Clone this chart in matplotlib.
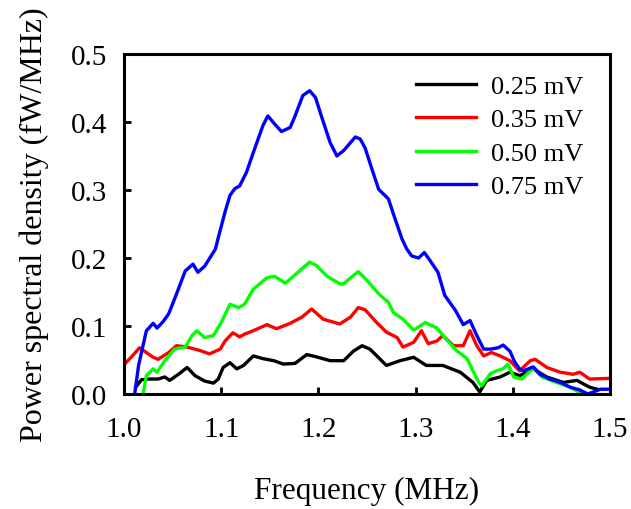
import matplotlib
matplotlib.use("Agg")
import matplotlib.pyplot as plt
from matplotlib.ticker import FormatStrFormatter

plt.rcParams['font.family'] = ['Liberation Serif', 'DejaVu Serif']

labels = ['0.25 mV', '0.35 mV', '0.50 mV', '0.75 mV']
colors = ['#000000', '#ff0000', '#00ff00', '#0000ff']

# 0.25 mV
f1 = [1.012, 1.018, 1.025, 1.035, 1.042, 1.047, 1.056, 1.065, 1.073, 1.083,
      1.092, 1.097, 1.102, 1.109, 1.116, 1.123, 1.133, 1.143, 1.154, 1.164,
      1.176, 1.188, 1.197, 1.212, 1.226, 1.236, 1.245, 1.253, 1.258, 1.270,
      1.284, 1.298, 1.311, 1.328, 1.346, 1.359, 1.366, 1.373, 1.387, 1.397,
      1.407, 1.421, 1.435, 1.452, 1.466, 1.479, 1.487]
p1 = [0.010, 0.021, 0.022, 0.022, 0.025, 0.020, 0.029, 0.039, 0.027, 0.019,
      0.016, 0.022, 0.039, 0.046, 0.037, 0.042, 0.056, 0.052, 0.049, 0.044,
      0.045, 0.058, 0.055, 0.049, 0.049, 0.063, 0.071, 0.066, 0.059, 0.042,
      0.049, 0.054, 0.042, 0.042, 0.032, 0.017, 0.003, 0.020, 0.025, 0.032,
      0.027, 0.037, 0.025, 0.017, 0.020, 0.010, 0.007]

# 0.35 mV
f2 = [1.000, 1.008, 1.016, 1.023, 1.030, 1.035, 1.046, 1.054, 1.065, 1.078,
      1.088, 1.099, 1.104, 1.112, 1.119, 1.124, 1.133, 1.147, 1.157, 1.171,
      1.183, 1.193, 1.205, 1.222, 1.233, 1.241, 1.248, 1.260, 1.270, 1.281,
      1.287, 1.298, 1.306, 1.313, 1.322, 1.328, 1.339, 1.349, 1.356, 1.363,
      1.370, 1.378, 1.387, 1.397, 1.407, 1.418, 1.423, 1.435, 1.449, 1.462,
      1.469, 1.479, 1.500]
p2 = [0.043, 0.055, 0.068, 0.061, 0.054, 0.051, 0.061, 0.071, 0.069, 0.064,
      0.059, 0.066, 0.078, 0.090, 0.084, 0.088, 0.093, 0.102, 0.096, 0.104,
      0.113, 0.125, 0.110, 0.103, 0.113, 0.127, 0.124, 0.105, 0.091, 0.083,
      0.069, 0.076, 0.093, 0.074, 0.078, 0.086, 0.071, 0.071, 0.093, 0.071,
      0.056, 0.061, 0.056, 0.049, 0.034, 0.049, 0.051, 0.039, 0.032, 0.029,
      0.032, 0.022, 0.023]

# 0.50 mV
f3 = [1.020, 1.023, 1.030, 1.034, 1.042, 1.052, 1.063, 1.070, 1.075, 1.083,
      1.092, 1.100, 1.109, 1.118, 1.124, 1.133, 1.147, 1.155, 1.166, 1.179,
      1.191, 1.198, 1.209, 1.222, 1.226, 1.234, 1.241, 1.250, 1.255, 1.263,
      1.272, 1.277, 1.287, 1.298, 1.310, 1.322, 1.332, 1.342, 1.353, 1.359,
      1.365, 1.368, 1.377, 1.383, 1.390, 1.395, 1.401, 1.409, 1.421, 1.430,
      1.445, 1.459, 1.469, 1.473]
p3 = [0.003, 0.027, 0.037, 0.032, 0.049, 0.066, 0.069, 0.086, 0.093, 0.083,
      0.086, 0.105, 0.132, 0.127, 0.132, 0.154, 0.171, 0.173, 0.163, 0.179,
      0.194, 0.189, 0.173, 0.162, 0.162, 0.172, 0.180, 0.167, 0.159, 0.146,
      0.135, 0.120, 0.110, 0.094, 0.105, 0.097, 0.080, 0.064, 0.052, 0.034,
      0.017, 0.012, 0.030, 0.034, 0.037, 0.044, 0.025, 0.022, 0.038, 0.025,
      0.017, 0.010, 0.002, 0.000]

# 0.75 mV
f4 = [1.011, 1.015, 1.023, 1.030, 1.034, 1.040, 1.046, 1.054, 1.063, 1.071,
      1.076, 1.083, 1.094, 1.097, 1.104, 1.109, 1.114, 1.119, 1.126, 1.133,
      1.143, 1.148, 1.155, 1.162, 1.171, 1.176, 1.184, 1.191, 1.197, 1.203,
      1.212, 1.219, 1.226, 1.238, 1.243, 1.248, 1.255, 1.262, 1.272, 1.279,
      1.286, 1.291, 1.296, 1.303, 1.309, 1.315, 1.323, 1.330, 1.341, 1.349,
      1.356, 1.363, 1.370, 1.377, 1.385, 1.390, 1.397, 1.402, 1.407, 1.411,
      1.421, 1.428, 1.438, 1.449, 1.459, 1.469, 1.477, 1.483, 1.490, 1.500]
p4 = [0.000, 0.042, 0.093, 0.104, 0.097, 0.106, 0.118, 0.147, 0.181, 0.191,
      0.179, 0.188, 0.213, 0.230, 0.268, 0.292, 0.302, 0.306, 0.326, 0.355,
      0.395, 0.409, 0.397, 0.386, 0.392, 0.409, 0.439, 0.446, 0.436, 0.409,
      0.370, 0.350, 0.358, 0.378, 0.375, 0.362, 0.331, 0.301, 0.287, 0.257,
      0.228, 0.213, 0.203, 0.200, 0.208, 0.196, 0.179, 0.145, 0.123, 0.102,
      0.108, 0.086, 0.066, 0.066, 0.068, 0.072, 0.063, 0.047, 0.037, 0.034,
      0.040, 0.029, 0.022, 0.017, 0.010, 0.006, 0.000, 0.003, 0.007, 0.007]

fig = plt.figure(figsize=(6.31, 5.10), dpi=100)
ax = fig.add_axes([124 / 631, 1 - 395 / 510, 486 / 631, 340 / 510])

for f, p, c, lab in zip([f1, f2, f3, f4], [p1, p2, p3, p4], colors, labels):
    ax.plot(f, p, color=c, lw=2.4, label=lab)

ax.set_xlim(1.0, 1.5)
ax.set_ylim(0.0, 0.5)
ax.set_xticks([1.0, 1.1, 1.2, 1.3, 1.4, 1.5])
ax.set_yticks([0.0, 0.1, 0.2, 0.3, 0.4, 0.5])
ax.xaxis.set_major_formatter(FormatStrFormatter('%.1f'))
ax.yaxis.set_major_formatter(FormatStrFormatter('%.1f'))
ax.tick_params(direction='in', length=5, width=2, labelsize=21)
ax.tick_params(axis='x', pad=16)
ax.tick_params(axis='y', pad=12)
for s in ax.spines.values():
    s.set_linewidth(2.2)

ax.set_xlabel('Frequency (MHz)', fontsize=22.5, labelpad=24)
ax.set_ylabel('Power spectral density (fW/MHz)', fontsize=23, labelpad=16)

ax.legend(loc='upper left', bbox_to_anchor=(0.60, 0.94), frameon=False,
          fontsize=19, handlelength=2.3, handletextpad=0.55, labelspacing=0.38,
          borderpad=0, borderaxespad=0)

fig.savefig('out.png', dpi=100)
